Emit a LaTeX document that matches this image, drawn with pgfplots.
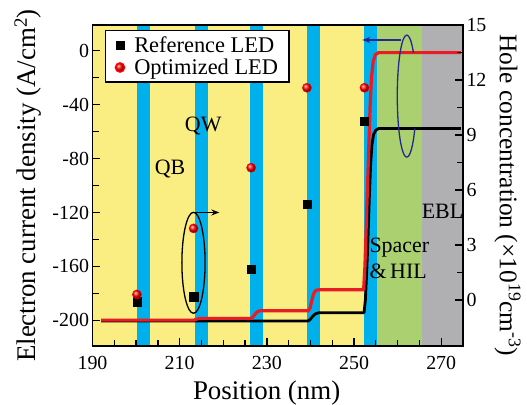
\documentclass[border=0pt]{standalone}
\usepackage{fontspec}
\setmainfont{Liberation Serif}
\usepackage{pgfplots}
\pgfplotsset{compat=1.18}
\usetikzlibrary{arrows.meta}
\definecolor{bgyellow}{RGB}{250,238,130}
\definecolor{qwcyan}{RGB}{0,176,236}
\definecolor{hilgreen}{RGB}{170,208,112}
\definecolor{eblgray}{RGB}{176,176,178}
\definecolor{lred}{RGB}{232,28,36}
\definecolor{navy}{RGB}{40,40,140}
\pgfplotsset{base/.style={scale only axis, width=370.5bp, height=321bp,
  at={(0,0)}, anchor=south west, xmin=190, xmax=275,
  /pgf/number format/assume math mode=true,
  tick label style={font=\fontsize{20}{22}\selectfont},
  major tick length=8bp, minor tick length=6.5bp,
  every tick/.style={line width=1.3bp, black},
  axis line style={line width=1.6bp}}}
\begin{document}
\begin{tikzpicture}
\begin{axis}[base, axis on top=true,
  ymin=-219, ymax=19,
  xtick={190,210,...,270}, minor x tick num=3,
  ytick={-200,-160,...,0}, minor y tick num=1,
  xtick pos=bottom, ytick pos=left,
  xticklabel style={yshift=-7bp},
  xlabel={Position (nm)},
  ylabel={Electron current density (A/cm\textsuperscript{2})},
  every axis x label/.style={at={(axis description cs:0.470,-0.145)}, anchor=center, font=\fontsize{27}{30}\selectfont},
  every axis y label/.style={at={(axis description cs:-0.174,0.5)}, anchor=center, rotate=90, font=\fontsize{27}{30}\selectfont}]
\fill[bgyellow] (axis cs:190,-219) rectangle (axis cs:255.3,19);
\fill[hilgreen] (axis cs:255.3,-219) rectangle (axis cs:265.7,19);
\fill[eblgray] (axis cs:265.7,-219) rectangle (axis cs:275,19);
\fill[qwcyan] (axis cs:200.2,-219) rectangle (axis cs:203.1,19);
\fill[qwcyan] (axis cs:213.5,-219) rectangle (axis cs:216.4,19);
\fill[qwcyan] (axis cs:226.2,-219) rectangle (axis cs:229.1,19);
\fill[qwcyan] (axis cs:239.2,-219) rectangle (axis cs:242.1,19);
\fill[qwcyan] (axis cs:252.4,-219) rectangle (axis cs:255.3,19);
% Reference LED electron current density
\addplot[black, line width=2.8bp, line join=round] coordinates {
(192,-200.5) (239.4,-200.5) (239.9,-199.5) (240.5,-197) (241.2,-195) (242,-194.3)
(252.3,-194.3) (252.6,-185) (252.9,-165) (253.2,-140) (253.5,-110) (253.8,-85)
(254.1,-70) (254.5,-62) (255,-59) (255.6,-57.8) (274.5,-57.8)};
% Optimized LED electron current density
\addplot[lred, line width=3.2bp, line join=round] coordinates {
(192,-199.8) (213.3,-199.8) (213.8,-199.2) (214.5,-198.6) (215.5,-198.5) (226.3,-198.5)
(226.8,-197.5) (227.3,-195.5) (227.8,-193.6) (228.5,-192.9) (239.5,-192.9) (239.9,-191)
(240.3,-185.5) (240.7,-180.5) (241.2,-177.8) (242,-177.3) (252.2,-177.3) (252.5,-160)
(252.8,-130) (253.1,-100) (253.4,-70) (253.7,-40) (254.0,-20) (254.4,-8) (254.9,-3)
(255.6,-1.5) (274.5,-1.5)};
\node[font=\fontsize{22}{24}\selectfont, inner sep=0pt] at (axis cs:215.4,-56) {QW};
\node[font=\fontsize{22}{24}\selectfont, inner sep=0pt] at (axis cs:207.8,-87.5) {QB};
\node[font=\fontsize{22}{24}\selectfont, inner sep=0pt] at (axis cs:270.3,-119.5) {EBL};
\node[font=\fontsize{22}{26}\selectfont, inner sep=0pt, align=left] at (axis cs:260.4,-154) {Spacer\\\&\,HIL};
\coordinate (ell1) at (axis cs:213.17,-157.3);
\coordinate (arr1a) at (axis cs:213.17,-120);
\coordinate (arr1b) at (axis cs:219.1,-120);
\coordinate (ell2) at (axis cs:262.1,-33.7);
\coordinate (arr2a) at (axis cs:260.7,7.9);
\coordinate (arr2b) at (axis cs:251.9,7.9);
\end{axis}
\begin{axis}[base, ymin=-2.5, ymax=15,
  axis x line=none, axis y line*=right,
  ytick={0,3,...,15}, minor y tick num=1,
  ylabel={Hole concentration (×10\textsuperscript{19}cm\textsuperscript{-3})},
  every axis y label/.style={at={(axis description cs:1.120,0.469)}, anchor=center, rotate=-90, font=\fontsize{25.5}{28}\selectfont},
  legend style={at={(axis description cs:0,1)}, anchor=north west,
    xshift=12.5bp, yshift=-5bp, draw=black, line width=1.4bp, fill=white,
    font=\fontsize{22.5}{24}\selectfont, inner xsep=9bp, inner ysep=4bp,
    row sep=1bp, column sep=7bp},
  legend cell align=left]
\addplot[only marks, mark=square*, mark size=4.2bp, black, mark options={line width=0.4bp}] coordinates {
(200.2,-0.09) (213.2,0.18) (226.4,1.68) (239.2,5.23) (252.4,9.77)};
\addlegendentry{Reference LED\hspace{12bp}}
\addplot[only marks, mark=ball, mark size=4.6bp, mark options={ball color=red}, red] coordinates {
(200.2,0.31) (213.2,3.91) (226.4,7.22) (239.2,11.58) (252.4,11.58)};
\addlegendentry{Optimized LED\hspace{12bp}}
\end{axis}
% annotations
\draw[black, line width=1.3bp] (ell1) ellipse [x radius=11.6bp, y radius=50.5bp];
\draw[black, line width=1.3bp, -{Stealth[length=8bp, width=6bp]}] (arr1a) -- (arr1b);
\draw[navy, line width=1.3bp] ([shift={(6.72bp,43.13bp)}]ell2) arc[start angle=45, end angle=328, x radius=9.5bp, y radius=61bp];
\draw[navy, line width=1.3bp, -{Stealth[length=8bp, width=6bp]}] (arr2a) -- (arr2b);
\pgfresetboundingbox
\path (-92.5bp,-59bp) rectangle (434.5bp,346bp);
\end{tikzpicture}
\end{document}
